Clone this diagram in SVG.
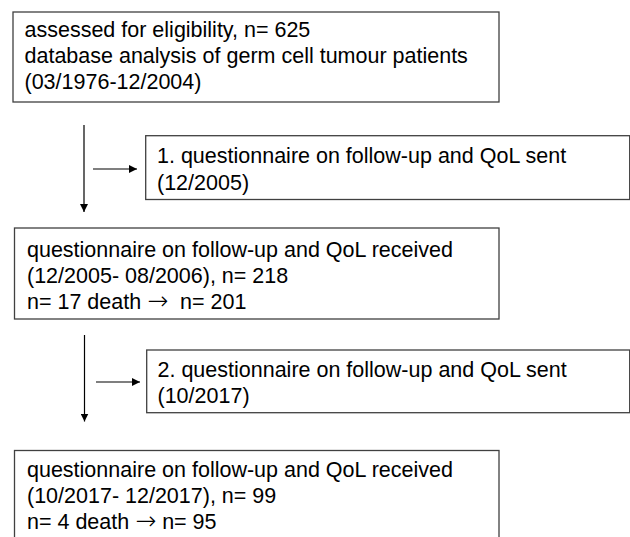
<svg xmlns="http://www.w3.org/2000/svg" width="630" height="537" viewBox="0 0 630 537">
<style>
.box{fill:#ffffff;stroke:#404040;stroke-width:1.3}
.t{font-family:"Liberation Sans",Arial,sans-serif;font-size:21.5px;fill:#000000;white-space:pre}
.ar{font-family:"DejaVu Sans",sans-serif;font-size:25px;font-weight:200}
.line{stroke:#000000;stroke-width:1.2;fill:none}
</style>
<defs>
<marker id="ah" viewBox="0 0 10 10" refX="10" refY="5" markerWidth="8" markerHeight="8" markerUnits="userSpaceOnUse" orient="auto">
<path d="M0,0 L10,5 L0,10 Z" fill="#000000"/>
</marker>
</defs>
<rect width="630" height="537" fill="#ffffff"/>
<g id="connectors">
<line class="line" x1="84" y1="125" x2="84" y2="212" marker-end="url(#ah)"/>
<line class="line" x1="93" y1="169" x2="137" y2="169" marker-end="url(#ah)"/>
<line class="line" x1="84.5" y1="335" x2="84.5" y2="421.5" marker-end="url(#ah)"/>
<line class="line" x1="96" y1="382" x2="140" y2="382" marker-end="url(#ah)"/>
</g>
<g id="assessed">
<rect class="box" x="13" y="12" width="486" height="90"/>
<text class="t" x="24.5" y="37.3">assessed for eligibility, n= 625</text>
<text class="t" x="24.5" y="63.3">database analysis of germ cell tumour patients</text>
<text class="t" x="24.5" y="89.3">(03/1976-12/2004)</text>
</g>
<g id="sent1">
<rect class="box" x="145.7" y="135.7" width="484" height="63.8"/>
<text class="t" x="157" y="163.3">1. questionnaire on follow-up and QoL sent</text>
<text class="t" x="157" y="189.5">(12/2005)</text>
</g>
<g id="received1">
<rect class="box" x="14.5" y="228" width="484.5" height="91"/>
<text class="t" x="27" y="257.3">questionnaire on follow-up and QoL received</text>
<text class="t" x="27" y="283.3">(12/2005- 08/2006), n= 218</text>
<text class="t" x="27" y="309.3">n= 17 death <tspan class="ar">→</tspan>  n= 201</text>
</g>
<g id="sent2">
<rect class="box" x="146.7" y="350" width="483" height="62.7"/>
<text class="t" x="157.5" y="376.7">2. questionnaire on follow-up and QoL sent</text>
<text class="t" x="157.5" y="403">(10/2017)</text>
</g>
<g id="received2">
<rect class="box" x="14.5" y="450.5" width="484.5" height="100"/>
<text class="t" x="27" y="476.7">questionnaire on follow-up and QoL received</text>
<text class="t" x="27" y="502.7">(10/2017- 12/2017), n= 99</text>
<text class="t" x="27" y="529">n= 4 death <tspan class="ar">→</tspan> n= 95</text>
</g>
</svg>
